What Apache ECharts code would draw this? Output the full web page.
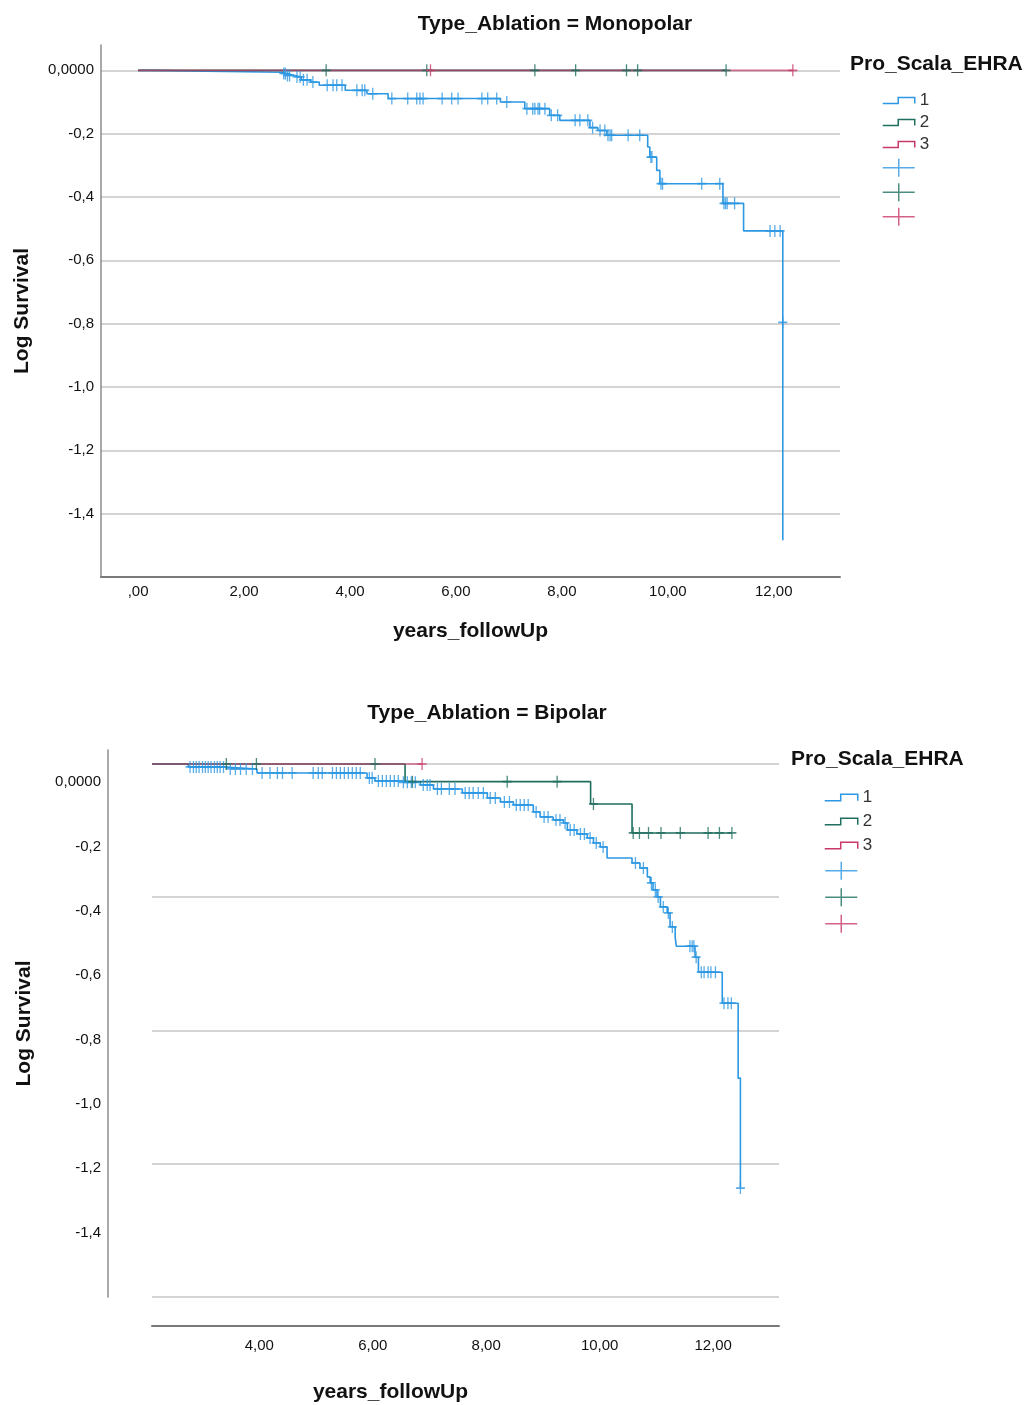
<!DOCTYPE html>
<html>
<head>
<meta charset="utf-8">
<title>Log Survival by Pro_Scala_EHRA</title>
<script src="https://cdn.jsdelivr.net/npm/echarts@6/dist/echarts.min.js"></script>
<style>
  html, body { margin: 0; padding: 0; background: #fff; }
  #main { width: 1030px; height: 1405px; }
</style>
</head>
<body>
<div id="main"></div>
<script>
// tick labels
var monoXTicks = [0, 2, 4, 6, 8, 10, 12];
var bipoXTicks = [4, 6, 8, 10, 12];
var groups = ['1', '2', '3'];

// Type_Ablation = Monopolar : [years, log survival]
var monoStep1 = [[0,0],[0.2,-0.006],[2.74,-0.010],[2.79,-0.016],[2.94,-0.021],[3.08,-0.030],[3.26,-0.037],[3.42,-0.047],
  [3.91,-0.063],[4.32,-0.074],[4.72,-0.089],[6.84,-0.100],[7.30,-0.121],[7.77,-0.142],[7.96,-0.158],[8.53,-0.181],
  [8.68,-0.190],[8.85,-0.205],[9.62,-0.242],[9.66,-0.274],[9.79,-0.316],[9.85,-0.358],[11.04,-0.420],[11.43,-0.507],
  [12.17,-0.796],[12.17,-1.484]];
var monoCens1 = [[2.75,-0.010],[2.78,-0.010],[2.82,-0.016],[2.86,-0.016],[3.00,-0.021],[3.06,-0.021],[3.12,-0.030],
  [3.19,-0.030],[3.30,-0.037],[3.57,-0.047],[3.68,-0.047],[3.75,-0.047],[3.85,-0.047],[4.13,-0.063],[4.23,-0.063],
  [4.28,-0.063],[4.43,-0.074],[4.79,-0.089],[5.09,-0.089],[5.26,-0.089],[5.32,-0.089],[5.38,-0.089],[5.74,-0.089],
  [5.92,-0.089],[6.04,-0.089],[6.49,-0.089],[6.60,-0.089],[6.77,-0.089],[6.96,-0.100],[7.34,-0.121],[7.45,-0.121],
  [7.49,-0.121],[7.55,-0.121],[7.58,-0.121],[7.68,-0.121],[7.80,-0.142],[7.92,-0.142],[8.25,-0.158],[8.34,-0.158],
  [8.49,-0.158],[8.58,-0.181],[8.72,-0.190],[8.81,-0.190],[8.87,-0.205],[8.91,-0.205],[8.94,-0.205],[9.25,-0.205],
  [9.47,-0.205],[9.68,-0.274],[9.70,-0.274],[9.87,-0.358],[9.90,-0.358],[10.64,-0.358],[10.98,-0.358],[11.06,-0.420],
  [11.09,-0.420],[11.12,-0.420],[11.26,-0.420],[11.93,-0.507],[12.02,-0.507],[12.12,-0.507],[12.17,-0.796]];
var monoStep2 = [[0,0],[11.10,0]];
var monoCens2 = [[3.55,0],[5.45,0],[7.49,0],[8.26,0],[9.22,0],[9.43,0],[11.10,0]];
var monoStep3 = [[0,0],[12.36,0]];
var monoCens3 = [[5.52,0],[12.36,0]];

// Type_Ablation = Bipolar : [years, log survival]
var bipoStep1 = [[2.11,0],[2.75,-0.009],[3.40,-0.015],[3.96,-0.027],[5.90,-0.042],[6.04,-0.051],[6.48,-0.055],
  [6.84,-0.063],[7.07,-0.075],[7.58,-0.087],[8.02,-0.102],[8.25,-0.114],[8.48,-0.123],[8.83,-0.144],[8.95,-0.159],
  [9.18,-0.168],[9.36,-0.177],[9.43,-0.198],[9.60,-0.210],[9.78,-0.222],[9.89,-0.237],[10.01,-0.249],[10.13,-0.282],
  [10.57,-0.297],[10.71,-0.312],[10.84,-0.339],[10.89,-0.357],[10.94,-0.378],[11.01,-0.399],[11.07,-0.429],
  [11.19,-0.447],[11.24,-0.489],[11.33,-0.520],[11.35,-0.547],[11.68,-0.580],[11.74,-0.625],[12.16,-0.718],
  [12.44,-0.943],[12.48,-1.273]];
var bipoCens1 = [[2.78,-0.009],[2.84,-0.009],[2.89,-0.009],[2.94,-0.009],[3.00,-0.009],[3.05,-0.009],[3.10,-0.009],
  [3.15,-0.009],[3.21,-0.009],[3.26,-0.009],[3.31,-0.009],[3.37,-0.009],[3.49,-0.015],[3.58,-0.015],[3.67,-0.015],
  [3.77,-0.015],[3.88,-0.015],[4.05,-0.027],[4.19,-0.027],[4.32,-0.027],[4.41,-0.027],[4.58,-0.027],[4.95,-0.027],
  [5.04,-0.027],[5.11,-0.027],[5.29,-0.027],[5.36,-0.027],[5.43,-0.027],[5.50,-0.027],[5.57,-0.027],[5.64,-0.027],
  [5.71,-0.027],[5.78,-0.027],[5.94,-0.042],[5.99,-0.042],[6.10,-0.051],[6.17,-0.051],[6.24,-0.051],[6.31,-0.051],
  [6.38,-0.051],[6.45,-0.051],[6.54,-0.055],[6.61,-0.055],[6.68,-0.055],[6.75,-0.055],[6.89,-0.063],[6.96,-0.063],
  [7.01,-0.063],[7.14,-0.075],[7.21,-0.075],[7.35,-0.075],[7.45,-0.075],[7.63,-0.087],[7.70,-0.087],[7.77,-0.087],
  [7.86,-0.087],[7.95,-0.087],[8.07,-0.102],[8.16,-0.102],[8.32,-0.114],[8.41,-0.114],[8.53,-0.123],[8.60,-0.123],
  [8.67,-0.123],[8.74,-0.123],[8.88,-0.144],[9.02,-0.159],[9.09,-0.159],[9.23,-0.168],[9.30,-0.168],[9.39,-0.177],
  [9.48,-0.198],[9.55,-0.198],[9.66,-0.210],[9.73,-0.210],[9.83,-0.222],[9.94,-0.237],[10.06,-0.249],[10.63,-0.297],
  [10.77,-0.312],[10.91,-0.357],[10.98,-0.378],[11.03,-0.399],[11.12,-0.429],[11.21,-0.447],[11.28,-0.489],
  [11.59,-0.547],[11.63,-0.547],[11.66,-0.547],[11.70,-0.580],[11.79,-0.625],[11.84,-0.625],[11.91,-0.625],
  [11.96,-0.625],[12.04,-0.625],[12.19,-0.718],[12.26,-0.718],[12.32,-0.718],[12.48,-1.273]];
var bipoStep2 = [[2.11,0],[6.57,-0.053],[9.84,-0.120],[10.57,-0.207],[12.33,-0.207]];
var bipoCens2 = [[3.42,0],[3.95,0],[6.04,0],[6.70,-0.053],[8.37,-0.053],[9.25,-0.053],[9.89,-0.120],[10.59,-0.207],
  [10.70,-0.207],[10.86,-0.207],[11.08,-0.207],[11.42,-0.207],[11.91,-0.207],[12.11,-0.207],[12.33,-0.207]];
var bipoStep3 = [[2.11,0],[6.87,0]];
var bipoCens3 = [[6.87,0]];

var colors = ['#2c97e2', '#1f6e5f', '#c8396a'];
var FONT = 'Liberation Sans, Arial, sans-serif';
var STEP_ICON = 'path://M0,6 L15,6 L15,0 L31,0 L31,6';
var CROSS_ICON = 'path://M0,9 L32,9 M16,0 L16,18';
var CENSOR = 'path://M0,6 L9,6 M4.5,0 L4.5,12';

function fmtX(v) {
  if (v === 0) return ',00';
  return v.toFixed(2).replace('.', ',');
}
function fmtY(v) {
  if (Math.abs(v) < 1e-9) return '0,0000';
  return v.toFixed(1).replace('.', ',');
}

function stepSeries(name, data, color, xi, yi, op) {
  return {
    name: name, type: 'line', step: 'end', data: data,
    xAxisIndex: xi, yAxisIndex: yi, symbol: 'none', showSymbol: false,
    lineStyle: { color: color, width: 1.6, opacity: op },
    itemStyle: { color: color }, silent: true, z: 2
  };
}
function censorSeries(name, data, color, xi, yi) {
  return {
    name: name, type: 'scatter', data: data,
    xAxisIndex: xi, yAxisIndex: yi, symbol: CENSOR, symbolSize: [9, 12],
    itemStyle: { color: 'rgba(0,0,0,0)', borderColor: color, borderWidth: 1.5 },
    silent: true, z: 3
  };
}

function legendData() {
  var d = [];
  groups.forEach(function (g, i) {
    d.push({ name: g, icon: STEP_ICON,
      itemStyle: { color: 'rgba(0,0,0,0)', borderColor: colors[i], borderWidth: 1.5 } });
  });
  groups.forEach(function (g, i) {
    d.push({ name: g + 'c', icon: CROSS_ICON,
      itemStyle: { color: 'rgba(0,0,0,0)', borderColor: colors[i], borderWidth: 1.5 } });
  });
  return d;
}

var axisNameStyle = { fontSize: 21, fontWeight: 'bold', color: '#111', fontFamily: FONT };
var tickStyle = { fontSize: 15, color: '#111', fontFamily: FONT };
var titleStyle = { fontSize: 21, fontWeight: 'bold', color: '#111', fontFamily: FONT };
var legendTitleStyle = { fontSize: 21, fontWeight: 'bold', color: '#111', fontFamily: FONT };

var myChart = echarts.init(document.getElementById('main'), null, { renderer: 'canvas' });

var option = {
  animation: false,
  backgroundColor: '#fff',
  textStyle: { fontFamily: FONT },
  title: [
    { text: 'Type_Ablation = Monopolar', left: 555, top: 14, textAlign: 'center', padding: 0, textStyle: titleStyle },
    { text: 'Type_Ablation = Bipolar', left: 487, top: 703, textAlign: 'center', padding: 0, textStyle: titleStyle },
    { text: 'Pro_Scala_EHRA', left: 850, top: 54, padding: 0, textStyle: legendTitleStyle },
    { text: 'Pro_Scala_EHRA', left: 791, top: 749, padding: 0, textStyle: legendTitleStyle }
  ],
  legend: [
    { orient: 'vertical', left: 882, top: 92, padding: 0, itemWidth: 32, itemHeight: 18, itemGap: 5,
      selectedMode: false, data: legendData(),
      formatter: function (n) { return n.length > 1 ? '' : n; },
      textStyle: { fontSize: 17, color: '#333', fontFamily: FONT } },
    { orient: 'vertical', left: 824, top: 789, padding: 0, itemWidth: 33, itemHeight: 18, itemGap: 7,
      selectedMode: false, data: legendData(),
      formatter: function (n) { return n.length > 1 ? '' : n; },
      textStyle: { fontSize: 17, color: '#333', fontFamily: FONT } }
  ],
  grid: [
    { left: 101, right: 190, top: 45, bottom: 828 },
    { left: 152, right: 251, top: 750, bottom: 108 }
  ],
  xAxis: [
    { gridIndex: 0, type: 'value', min: -0.7, max: 13.25,
      axisLine: { onZero: false, lineStyle: { color: '#7a7a7a', width: 2 } },
      axisTick: { show: false }, splitLine: { show: false },
      axisLabel: Object.assign({ customValues: monoXTicks, formatter: fmtX, margin: 7 }, tickStyle),
      name: 'years_followUp', nameLocation: 'middle', nameGap: 44, nameTextStyle: axisNameStyle },
    { gridIndex: 1, type: 'value', min: 2.11, max: 13.16, offset: 29,
      axisLine: { onZero: false, lineStyle: { color: '#7a7a7a', width: 2 } },
      axisTick: { show: false }, splitLine: { show: false },
      axisLabel: Object.assign({ customValues: bipoXTicks, formatter: fmtX, margin: 12 }, tickStyle),
      name: 'years_followUp', nameLocation: 'middle', nameGap: 56,
      nameTextStyle: Object.assign({ padding: [0, 150, 0, 0] }, axisNameStyle) }
  ],
  yAxis: [
    { gridIndex: 0, type: 'value', min: -1.6, max: 0.08, interval: 0.2, position: 'left',
      axisLine: { show: true, onZero: false, lineStyle: { color: '#8c8c8c', width: 1.5 } },
      axisTick: { show: false },
      axisLabel: Object.assign({ formatter: fmtY, margin: 7, showMinLabel: false, showMaxLabel: false }, tickStyle),
      splitLine: { show: true, showMinLine: false, showMaxLine: false,
        lineStyle: { color: '#c6c6c6', width: 1.5 } },
      name: 'Log Survival', nameLocation: 'middle', nameGap: 68, nameTextStyle: axisNameStyle },
    { gridIndex: 1, type: 'value', min: -1.6, max: 0.1, interval: 0.2, position: 'left', offset: 44,
      axisLine: { show: true, onZero: false, lineStyle: { color: '#8c8c8c', width: 1.5 } },
      axisTick: { show: false }, splitLine: { show: false },
      axisLabel: Object.assign({ formatter: fmtY, margin: 7, showMinLabel: false, showMaxLabel: false }, tickStyle),
      name: 'Log Survival', nameLocation: 'middle', nameGap: 73, nameTextStyle: axisNameStyle },
    { gridIndex: 1, type: 'value', min: -1.6, max: 0.042, interval: 0.4, position: 'right',
      axisLine: { show: false, onZero: false }, axisTick: { show: false }, axisLabel: { show: false },
      splitLine: { show: true, showMaxLine: false, lineStyle: { color: '#c6c6c6', width: 1.5 } } }
  ],
  series: [
    stepSeries('1', monoStep1, colors[0], 0, 0, 1),
    stepSeries('2', monoStep2, colors[1], 0, 0, 1),
    stepSeries('3', monoStep3, colors[2], 0, 0, 0.7),
    censorSeries('1c', monoCens1, colors[0], 0, 0),
    censorSeries('2c', monoCens2, colors[1], 0, 0),
    censorSeries('3c', monoCens3, colors[2], 0, 0),
    stepSeries('1', bipoStep1, colors[0], 1, 2, 1),
    stepSeries('2', bipoStep2, colors[1], 1, 2, 1),
    stepSeries('3', bipoStep3, colors[2], 1, 2, 0.7),
    censorSeries('1c', bipoCens1, colors[0], 1, 2),
    censorSeries('2c', bipoCens2, colors[1], 1, 2),
    censorSeries('3c', bipoCens3, colors[2], 1, 2)
  ]
};

myChart.setOption(option);
</script>
</body>
</html>
